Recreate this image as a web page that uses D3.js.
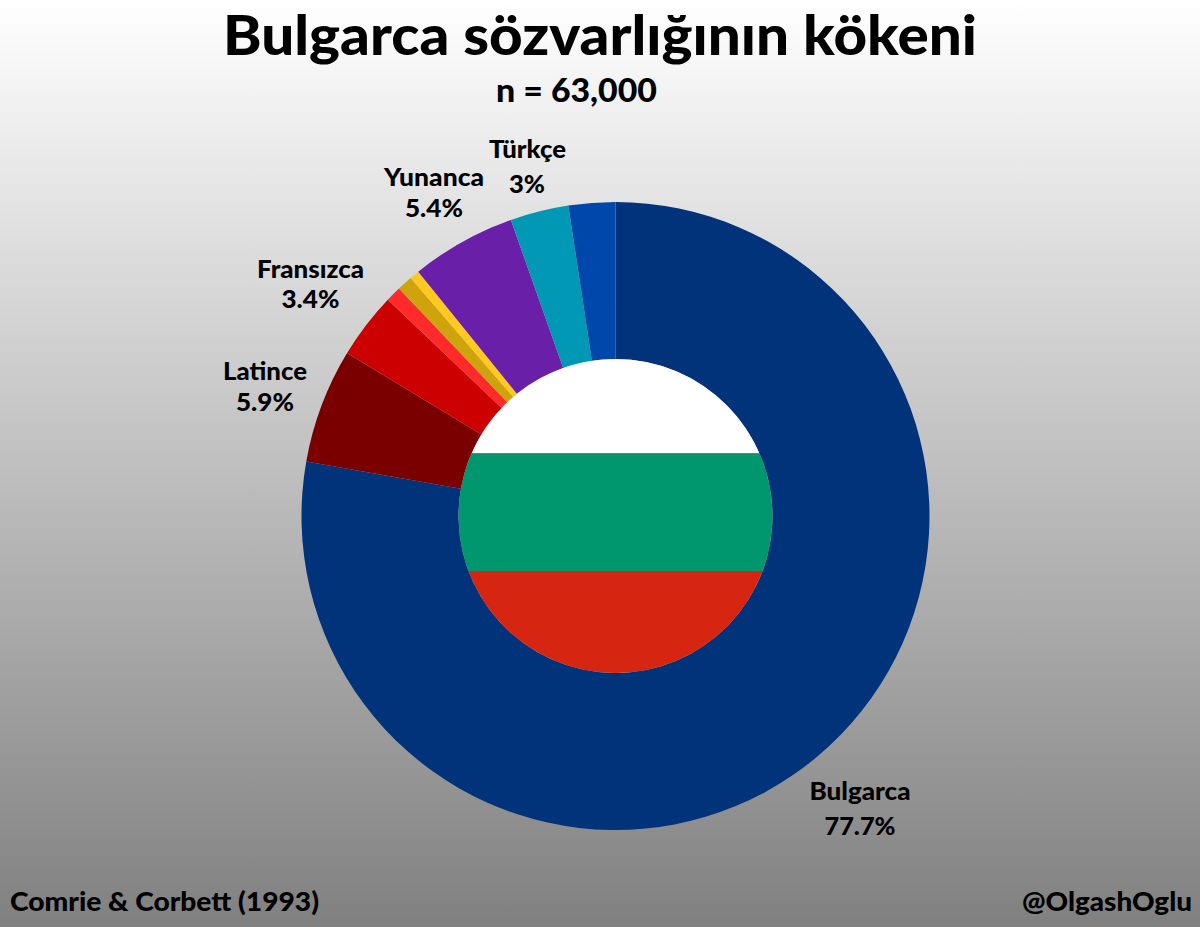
<!DOCTYPE html>
<html><head><meta charset="utf-8">
<script src="https://cdn.jsdelivr.net/npm/d3@7"></script>
<style>html,body{margin:0;padding:0;background:#fff}svg{display:block}text{font-family:Lato,"Open Sans",sans-serif;font-weight:900;fill:#000;text-anchor:middle}</style>
</head><body><svg id="c" width="1200" height="927"></svg>
<script>
const categories=["Bulgarca","Latince","Fransızca","Diğer 1","Diğer 2","Diğer 3","Yunanca","Türkçe","Diğer 4"];
const values=[77.7,5.9,3.4,0.8,0.8,0.5,5.4,3.0,2.4];
const colors=["#00337a","#7a0000","#cc0000","#ff2b2b","#cfa30b","#ffc91f","#6a1fa8","#0098b5","#0047ab"];
const flagBands=[0,0.3,0.675,1];
const flagColors=["#ffffff","#00966e","#d62612"];
const labelRows=[
 ["Bulgarca",860,800,101,25],["77.7%",860,835,71,25],
 ["Latince",265,380,84,25],["5.9%",265,411,58,25],
 ["Fransızca",310.5,278,107,25],["3.4%",310.5,308,58,25],
 ["Yunanca",434,186,100,25],["5.4%",434,217,58,25],
 ["Türkçe",527.5,158,77,25],["3%",527,193,36,25]];
const W=1200,H=927,cx=615.5,cy=516,R=314,r=157;
const svg=d3.select("#c");
const defs=svg.append("defs");
const g=defs.append("linearGradient").attr("id","bg").attr("x1",0).attr("x2",0).attr("y1",0).attr("y2",1);
g.append("stop").attr("offset",0).attr("stop-color","#ffffff");
g.append("stop").attr("offset",1).attr("stop-color","#808080");
svg.append("rect").attr("width",W).attr("height",H).attr("fill","url(#bg)");
defs.append("clipPath").attr("id","flag").append("circle").attr("cx",cx).attr("cy",cy).attr("r",r);
const pie=d3.pie().sort(null).value(d=>d).startAngle(0).endAngle(2*Math.PI);
const arc=d3.arc().innerRadius(r).outerRadius(R);
const root=svg.append("g").attr("transform",`translate(${cx},${cy})`);
root.selectAll("path").data(pie(values)).join("path").attr("d",arc).attr("fill",(d,i)=>colors[i]);
const y=d3.scaleLinear().domain([0,1]).range([cy-r,cy+r]);
svg.append("g").attr("clip-path","url(#flag)").selectAll("rect").data(flagColors).join("rect")
 .attr("x",cx-r).attr("width",2*r)
 .attr("y",(d,i)=>y(flagBands[i])).attr("height",(d,i)=>y(flagBands[i+1])-y(flagBands[i])).attr("fill",d=>d);
function t(s,x,yy,w,fs,anchor){svg.append("text").attr("x",x).attr("y",yy).attr("font-size",fs)
 .attr("textLength",w).attr("lengthAdjust","spacingAndGlyphs").style("text-anchor",anchor||"middle").text(s);}
t("Bulgarca sözvarlığının kökeni",600,55,754,55);
t("n = 63,000",576.5,102,161,32);
labelRows.forEach(d=>t(d[0],d[1],d[2],d[3],d[4]));
t("Comrie & Corbett (1993)",10,911,309,27,"start");
t("@OlgashOglu",1192,911,170,27,"end");
</script></body></html>
